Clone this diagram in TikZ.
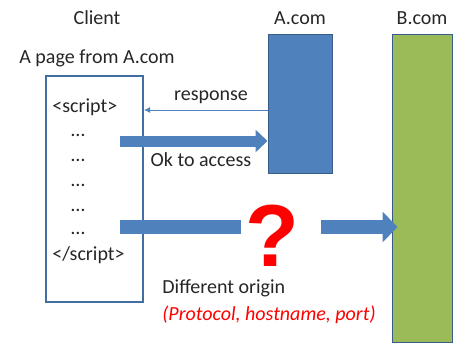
\documentclass[tikz,border=0pt]{standalone}
\usepackage{fontspec}
\setmainfont{Carlito}
\newfontfamily\askfont{Liberation Sans}
\usetikzlibrary{arrows.meta,positioning}
\definecolor{officeblue}{HTML}{4F81BD}
\definecolor{officegreen}{HTML}{9BBB59}
\definecolor{edgeblue}{HTML}{385D8A}
\definecolor{textgray}{HTML}{262626}

\begin{document}
\begin{tikzpicture}[
  x=0.5pt, y=-0.5pt,
  font=\fontsize{10}{12}\selectfont, text=textgray,
  server/.style={draw=edgeblue, line width=0.5pt, inner sep=0pt},
  code/.style={anchor=west, inner sep=0pt},
  bigarr/.style={-{Triangle[length=6pt,width=11pt]}, line width=5.5pt, draw=officeblue},
  widebar/.style={line width=7pt, draw=officeblue},
  widearr/.style={widebar, -{Triangle[length=7.5pt,width=15pt]}},
  thinarr/.style={-{Latex[length=3pt,width=3pt]}, draw=officeblue, line width=0.5pt}
]
\useasboundingbox (0,0) rectangle (454,343);
% client page
\node[draw=officeblue!85!black, line width=1pt, minimum width=48.5pt, minimum height=113pt, inner sep=0pt] (client) at (94.5,189) {};
\node (who) at (97,18) {Client};
\node (page) at (97,58) {A page from A.com};
\node[code] (open) at (52,107) {<script>};
\foreach \y/\n in {135/d1,160/d2,185/d3,210/d4,233/d5}
  \node[inner sep=0pt] (\n) at (78,\y) {…};
\node[code] (close) at (52,255) {</script>};
% servers
\node[server, fill=officeblue, minimum width=32pt, minimum height=69.5pt] (acom) at (300,103.5) {};
\node[above=1pt of acom] {A.com};
\node[server, fill=officegreen, minimum width=30pt, minimum height=154pt] (bcom) at (422,188) {};
\node[above=1pt of bcom] {B.com};
% requests
\coordinate (req1) at (120,141);
\coordinate (req2) at (120,227);
\node[text=red, font=\askfont\bfseries\fontsize{44}{44}\selectfont, inner xsep=2pt, inner ysep=0pt, text depth=0pt] (ask) at (272,236) {?};
\draw[thinarr] (acom.west |- 0,110) -- (client.east |- 0,110);
\node (resp) at (211,97) {response};
\draw[bigarr] (req1) -- (acom.west |- req1);
\node (ok) at (201,160) {Ok to access};
\draw[widebar] (req2) -- (ask.west |- req2);
\draw[widearr] ([xshift=9pt]ask.east |- req2) -- ([xshift=3pt]bcom.west |- req2);
\node[code] (diff) at (162,288) {Different origin};
\node[code, text=red, font=\fontsize{10}{12}\selectfont\itshape] (why) at (162,315) {(Protocol, hostname, port)};
\end{tikzpicture}
\end{document}
